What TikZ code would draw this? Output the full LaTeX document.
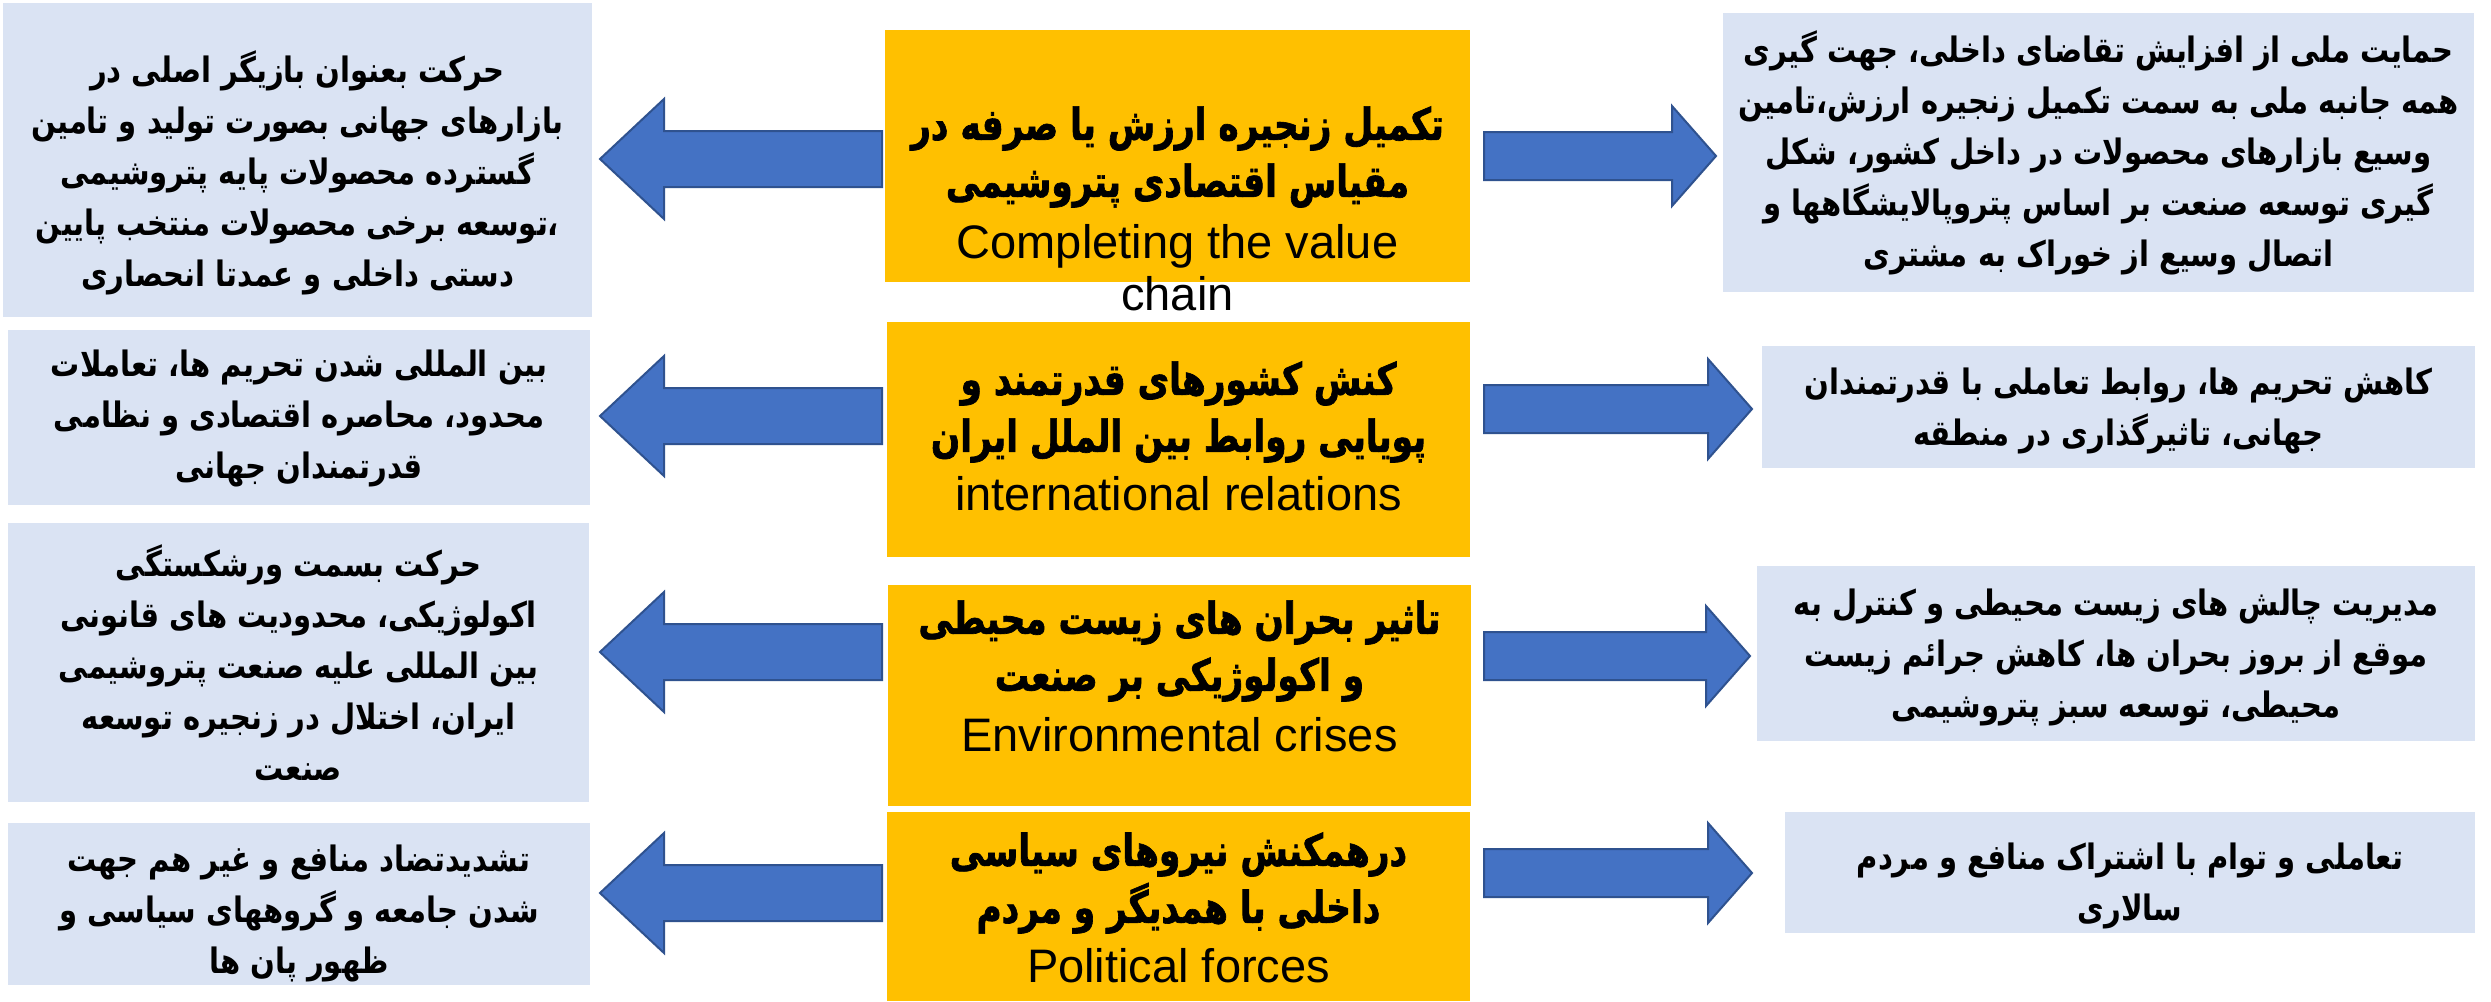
\documentclass[tikz,border=0pt]{standalone}
\usepackage{fontspec}
\setmainfont{Liberation Sans}
\newfontfamily\fa[Script=Arabic,FakeStretch=0.83]{DejaVu Sans}
\newfontfamily\fah[Script=Arabic,FakeBold=1.5,FakeStretch=0.78]{DejaVu Sans Bold}
\newfontfamily\en{Liberation Sans}
\TeXXeTstate=1
\usetikzlibrary{calc}
\definecolor{sidebg}{HTML}{DAE3F3}
\definecolor{midbg}{HTML}{FFC000}
\definecolor{arrfill}{HTML}{4472C4}
\definecolor{arrline}{HTML}{2F528F}
\newcommand\rl[1]{\beginR #1\endR}
\newcommand\rarrow[5]{\draw[barrow] ($(#1)+(0,-#4)$) -- ($(#2)+(-#3,-#4)$) -- ($(#2)+(-#3,-#5)$) -- (#2) -- ($(#2)+(-#3,#5)$) -- ($(#2)+(-#3,#4)$) -- ($(#1)+(0,#4)$) -- cycle;}
\newcommand\larrow[5]{\draw[barrow] ($(#1)+(0,-#4)$) -- ($(#2)+(#3,-#4)$) -- ($(#2)+(#3,-#5)$) -- (#2) -- ($(#2)+(#3,#5)$) -- ($(#2)+(#3,#4)$) -- ($(#1)+(0,#4)$) -- cycle;}
\begin{document}
\begin{tikzpicture}[x=1pt,y=-1pt,
  sidebox/.style={fill=sidebg, draw=none, inner sep=0pt},
  sidetext/.style={align=center, inner sep=0pt, font=\fa\bfseries\fontsize{35}{51}\selectfont},
  midbox/.style={fill=midbg, draw=none, inner sep=0pt},
  titletext/.style={align=center, inner sep=0pt, font=\fah\fontsize{44}{57}\selectfont},
  entext/.style={inner sep=0pt, anchor=base, font=\en\fontsize{47}{56}\selectfont},
  barrow/.style={fill=arrfill, draw=arrline, line width=2pt, line join=miter},
]
\useasboundingbox[fill=white] (0,0) rectangle (2491,1001);

% left boxes
\node[sidebox, minimum width=589, minimum height=314] (l1) at (297.5,160) {};
\node[sidebox, minimum width=582, minimum height=175] (l2) at (299,417.5) {};
\node[sidebox, minimum width=581, minimum height=279] (l3) at (298.5,662.5) {};
\node[sidebox, minimum width=582, minimum height=162] (l4) at (299,904) {};
\node[sidetext] (l1t) at (297.5,173) {%
\rl{حرکت بعنوان بازیگر اصلی در}\\
\rl{بازارهای جهانی بصورت تولید و تامین}\\
\rl{گسترده محصولات پایه پتروشیمی}\\
\rl{،توسعه برخی محصولات منتخب پایین}\\
\rl{دستی داخلی و عمدتا انحصاری}};
\node[sidetext] (l2t) at (299,418.5) {%
\rl{بین المللی شدن تحریم ها، تعاملات}\\
\rl{محدود، محاصره اقتصادی و نظامی}\\
\rl{قدرتمندان جهانی}};
\node[sidetext] (l3t) at (298.5,662.5) {%
\rl{حرکت بسمت ورشکستگی}\\
\rl{اکولوژیکی، محدودیت های قانونی}\\
\rl{بین المللی علیه صنعت پتروشیمی}\\
\rl{ایران، اختلال در زنجیره توسعه}\\
\rl{صنعت}};
\node[sidetext] (l4t) at (299,913) {%
\rl{تشدیدتضاد منافع و غیر هم جهت}\\
\rl{شدن جامعه و گروههای سیاسی و}\\
\rl{ظهور پان ها}};

% centre boxes
\node[midbox, minimum width=585, minimum height=252] (c1) at (1177.5,156) {};
\node[midbox, minimum width=583, minimum height=235] (c2) at (1178.5,439.5) {};
\node[midbox, minimum width=583, minimum height=221] (c3) at (1179.5,695.5) {};
\node[midbox, minimum width=583, minimum height=189] (c4) at (1178.5,906.5) {};

\node[titletext] (c1t) at (1177.5,157) {\rl{تکمیل زنجیره ارزش یا صرفه در}\\\rl{مقیاس اقتصادی پتروشیمی}};
\node[entext] (c1e) at (1177.5,258) {Completing the value};
\node[entext] (c1f) at (1177.5,310) {chain};
\node[titletext] (c2t) at (1178.5,412) {\rl{کنش کشورهای قدرتمند و}\\\rl{پویایی روابط بین الملل ایران}};
\node[entext] (c2e) at (1178.5,510) {international relations};
\node[titletext] (c3t) at (1179.5,651) {\rl{تاثیر بحران های زیست محیطی}\\\rl{و اکولوژیکی بر صنعت}};
\node[entext] (c3e) at (1179.5,751) {Environmental crises};
\node[titletext] (c4t) at (1178.5,883) {\rl{درهمکنش نیروهای سیاسی}\\\rl{داخلی با همدیگر و مردم}};
\node[entext] (c4e) at (1178.5,982) {Political forces};

% right boxes
\node[sidebox, minimum width=751, minimum height=279] (r1) at (2098.5,152.5) {};
\node[sidebox, minimum width=713, minimum height=122] (r2) at (2118.5,407) {};
\node[sidebox, minimum width=718, minimum height=175] (r3) at (2116,653.5) {};
\node[sidebox, minimum width=690, minimum height=121] (r4) at (2130,872.5) {};
\node[sidetext] (r1t) at (2098.5,152.5) {%
\rl{حمایت ملی از افزایش تقاضای داخلی، جهت گیری}\\
\rl{همه جانبه ملی به سمت تکمیل زنجیره ارزش،تامین}\\
\rl{وسیع بازارهای محصولات در داخل کشور، شکل}\\
\rl{گیری توسعه صنعت بر اساس پتروپالایشگاهها و}\\
\rl{اتصال وسیع از خوراک به مشتری}};
\node[sidetext] (r2t) at (2118.5,411) {%
\rl{کاهش تحریم ها، روابط تعاملی با قدرتمندان}\\
\rl{جهانی، تاثیرگذاری در منطقه}};
\node[sidetext] (r3t) at (2116,657.5) {%
\rl{مدیریت چالش های زیست محیطی و کنترل به}\\
\rl{موقع از بروز بحران ها، کاهش جرائم زیست}\\
\rl{محیطی، توسعه سبز پتروشیمی}};
\node[sidetext] (r4t) at (2130,886) {%
\rl{تعاملی و توام با اشتراک منافع و مردم}\\
\rl{سالاری}};

% arrow end points
\coordinate (a1l-s) at (882,159); \coordinate (a1l-e) at (600,159);
\coordinate (a2l-s) at (882,416); \coordinate (a2l-e) at (600,416);
\coordinate (a3l-s) at (882,652); \coordinate (a3l-e) at (600,652);
\coordinate (a4l-s) at (882,893); \coordinate (a4l-e) at (600,893);
\coordinate (a1r-s) at (1484,156); \coordinate (a1r-e) at (1716,156);
\coordinate (a2r-s) at (1484,409); \coordinate (a2r-e) at (1752,409);
\coordinate (a3r-s) at (1484,656); \coordinate (a3r-e) at (1750,656);
\coordinate (a4r-s) at (1484,873); \coordinate (a4r-e) at (1752,873);

\larrow{a1l-s}{a1l-e}{64}{28}{60}
\larrow{a2l-s}{a2l-e}{64}{28}{60}
\larrow{a3l-s}{a3l-e}{64}{28}{60}
\larrow{a4l-s}{a4l-e}{64}{28}{60}
\rarrow{a1r-s}{a1r-e}{44}{24}{50}
\rarrow{a2r-s}{a2r-e}{44}{24}{50}
\rarrow{a3r-s}{a3r-e}{44}{24}{50}
\rarrow{a4r-s}{a4r-e}{44}{24}{50}
\end{tikzpicture}
\end{document}
